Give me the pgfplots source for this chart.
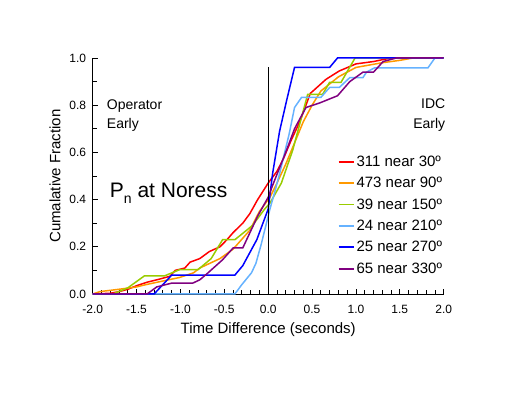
\documentclass[border=0pt]{standalone}
\usepackage{fontspec}
\setmainfont{Liberation Sans}
\usepackage{pgfplots}
\pgfplotsset{compat=1.18}
\definecolor{cred}{RGB}{255,0,0}
\definecolor{corange}{RGB}{255,153,0}
\definecolor{cgreen}{RGB}{153,204,0}
\definecolor{clblue}{RGB}{102,178,255}
\definecolor{cblue}{RGB}{0,0,255}
\definecolor{cpurple}{RGB}{128,0,128}
\begin{document}
\begin{tikzpicture}
\begin{axis}[
  at={(0,0)}, anchor=south west,
  scale only axis, width=351pt, height=236pt,
  xmin=-2, xmax=2, ymin=0, ymax=1,
  clip=false,
  axis x line*=bottom, axis y line*=left,
  axis line style={-, line width=0.8pt},
  xtick={-2,-1.5,-1,-0.5,0,0.5,1,1.5,2}, minor x tick num=4,
  ytick={0,0.2,0.4,0.6,0.8,1}, minor y tick num=1,
  tick align=inside,
  major tick length=5pt, minor tick length=4pt,
  tick style={black, line width=0.8pt},
  /pgf/number format/assume math mode=true,
  xticklabel style={yshift=-8pt, /pgf/number format/.cd, fixed, fixed zerofill, precision=1},
  yticklabel style={xshift=-3pt, /pgf/number format/.cd, fixed, fixed zerofill, precision=1},
  ticklabel style={font=\fontsize{12}{14}\selectfont},
  label style={font=\fontsize{15}{18}\selectfont},
  xlabel={Time Difference (seconds)},
  xlabel style={yshift=-2pt},
  ylabel={Cumalative Fraction},
  ylabel style={yshift=2pt},
  legend style={at={(axis cs:0.79,0.595)}, anchor=north west, draw=none, fill=none,
    font=\fontsize{15}{18}\selectfont, inner sep=0pt, row sep=5.4pt},
  legend cell align=left,
  legend image code/.code={\draw[#1, line width=1.8pt] (0pt,0pt) -- (15pt,0pt);},
  every axis plot/.append style={line width=1.5pt},
]
\addplot[cred] coordinates {(-2,0) (-1.8,0.003) (-1.7,0.01) (-1.6,0.02) (-1.5,0.035) (-1.38,0.05) (-1.25,0.062) (-1.12,0.075) (-1.06,0.10) (-0.95,0.11) (-0.89,0.135) (-0.78,0.15) (-0.67,0.18) (-0.55,0.20) (-0.47,0.23) (-0.40,0.26) (-0.29,0.30) (-0.21,0.34) (-0.12,0.40) (0,0.47) (0.1,0.52) (0.17,0.57) (0.26,0.65) (0.36,0.73) (0.48,0.85) (0.66,0.91) (0.81,0.945) (1.0,0.975) (1.2,0.985) (1.33,0.995) (1.4,1.0) (2,1)};
\addlegendentry{311 near 30º}
\addplot[corange] coordinates {(-2,0) (-1.92,0.01) (-1.7,0.02) (-1.5,0.03) (-1.39,0.04) (-1.2,0.055) (-1.01,0.07) (-0.85,0.09) (-0.78,0.11) (-0.55,0.15) (-0.40,0.19) (-0.21,0.27) (-0.10,0.35) (0.02,0.41) (0.1,0.47) (0.2,0.55) (0.3,0.64) (0.4,0.73) (0.5,0.80) (0.6,0.86) (0.7,0.89) (0.8,0.92) (0.9,0.94) (1.0,0.96) (1.15,0.97) (1.3,0.98) (1.5,0.99) (1.65,1.0) (2,1)};
\addlegendentry{473 near 90º}
\addplot[cgreen] coordinates {(-2,0) (-1.77,0) (-1.60,0.026) (-1.41,0.077) (-1.18,0.077) (-1.01,0.103) (-0.80,0.103) (-0.65,0.15) (-0.52,0.23) (-0.38,0.23) (-0.18,0.29) (-0.04,0.36) (0.02,0.385) (0.15,0.47) (0.28,0.61) (0.45,0.846) (0.62,0.846) (0.70,0.897) (0.83,0.897) (0.99,1.0) (2,1)};
\addlegendentry{39 near 150º}
\addplot[clblue] coordinates {(-2,0) (-0.38,0) (-0.30,0.04) (-0.19,0.09) (-0.14,0.13) (-0.08,0.21) (-0.02,0.30) (0.02,0.36) (0.08,0.44) (0.13,0.51) (0.24,0.68) (0.30,0.79) (0.38,0.833) (0.60,0.833) (0.70,0.875) (0.81,0.875) (0.93,0.917) (1.08,0.917) (1.12,0.94) (1.21,0.958) (1.82,0.958) (1.90,1.0) (2,1)};
\addlegendentry{24 near 210º}
\addplot[cblue] coordinates {(-2,0) (-1.30,0) (-1.10,0.08) (-0.38,0.08) (-0.29,0.12) (-0.13,0.23) (0,0.36) (0.05,0.51) (0.13,0.69) (0.21,0.82) (0.30,0.96) (0.70,0.96) (0.79,1.0) (2,1)};
\addlegendentry{25 near 270º}
\addplot[cpurple] coordinates {(-2,0) (-1.38,0) (-1.27,0.03) (-1.10,0.046) (-0.86,0.046) (-0.78,0.06) (-0.70,0.085) (-0.52,0.145) (-0.40,0.195) (-0.29,0.195) (-0.12,0.33) (0,0.41) (0.05,0.46) (0.21,0.61) (0.30,0.70) (0.43,0.79) (0.59,0.81) (0.79,0.84) (0.93,0.90) (1.08,0.94) (1.20,0.94) (1.31,0.985) (1.46,1.0) (2,1)};
\addlegendentry{65 near 330º}
\draw[black, line width=0.8pt] (axis cs:0,0) -- (axis cs:0,0.96);
\node[anchor=base west, font=\fontsize{14}{16}\selectfont, inner sep=0pt] at (axis cs:-1.84,0.78) {Operator};
\node[anchor=base west, font=\fontsize{14}{16}\selectfont, inner sep=0pt] at (axis cs:-1.84,0.703) {Early};
\node[anchor=base east, font=\fontsize{14}{16}\selectfont, inner sep=0pt] at (axis cs:2.02,0.784) {IDC};
\node[anchor=base east, font=\fontsize{14}{16}\selectfont, inner sep=0pt] at (axis cs:2.02,0.703) {Early};
\node[anchor=base west, font=\fontsize{21}{24}\selectfont, inner sep=0pt] at (axis cs:-1.806,0.411) {P\raisebox{-0.3em}{\fontsize{14}{14}\selectfont n} at Noress};
\end{axis}
\pgfresetboundingbox
\useasboundingbox (-92.7pt,-99pt) rectangle (416.3pt,294pt);
\end{tikzpicture}
\end{document}
